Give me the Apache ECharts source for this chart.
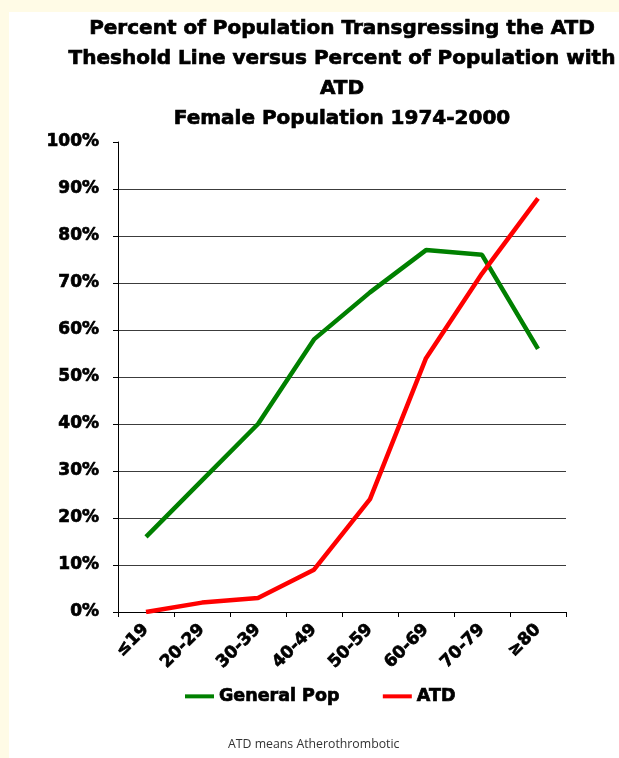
<!DOCTYPE html>
<html>
<head>
<meta charset="utf-8">
<script src="https://cdn.jsdelivr.net/npm/echarts@6/dist/echarts.min.js"></script>
<style>
  html, body { margin: 0; padding: 0; background: #FFFBE6; }
  #panel { position: absolute; left: 9px; top: 12px; width: 610px; height: 746px; background: #ffffff; }
  #chart { position: absolute; left: 0; top: 0; width: 619px; height: 758px; }
</style>
</head>
<body>
<div id="panel"></div>
<div id="chart"></div>
<script>
// Age bands (female population, 1974-2000)
const ageGroups = ['≤19', '20-29', '30-39', '40-49', '50-59', '60-69', '70-79', '≥80'];
// Percent of population transgressing the ATD threshold line
const generalPop = [16, 28, 40, 58, 68, 77, 76, 56];
// Percent of population with ATD
const atd = [0, 2, 3, 9, 24, 54, 72, 88];

const titleLines = [
  'Percent of Population Transgressing the ATD',
  'Theshold Line versus Percent of Population with',
  'ATD',
  'Female Population 1974-2000'
];
const footnote = 'ATD means Atherothrombotic';

const boldFont = 'DejaVu Sans';
// a thin outline in the text colour gives the heavy weight
const heavy = { textBorderColor: '#000', textBorderWidth: 0.7 };

// grid lines at 0..90 drawn, none at the 100% top
const splitColors = [];
for (let i = 0; i <= 10; i++) splitColors.push(i === 10 ? 'rgba(0,0,0,0)' : '#3c3c3c');

const chart = echarts.init(document.getElementById('chart'), null, { renderer: 'canvas' });
chart.setOption({
  backgroundColor: 'transparent',
  animation: false,
  title: {
    text: titleLines.join('\n'),
    left: 337,
    top: 9,
    textAlign: 'center',
    textStyle: Object.assign({
      fontFamily: boldFont,
      fontWeight: 'bold',
      fontSize: 20,
      lineHeight: 29.8,
      color: '#000'
    }, heavy)
  },
  legend: {
    left: 180,
    top: 682,
    icon: 'rect',
    itemWidth: 29,
    itemHeight: 4,
    itemGap: 43,
    textStyle: Object.assign({
      fontFamily: boldFont,
      fontWeight: 'bold',
      fontSize: 17.5,
      color: '#000'
    }, heavy),
    data: ['General Pop', 'ATD']
  },
  graphic: [{
    type: 'text',
    left: 228,
    top: 738,
    style: {
      text: footnote,
      fontFamily: 'Open Sans',
      fontSize: 12.3,
      fill: '#333'
    }
  }],
  grid: {
    left: 118,
    right: 53,
    top: 142,
    bottom: 146,
    containLabel: false
  },
  xAxis: {
    type: 'category',
    data: ageGroups,
    boundaryGap: true,
    axisLine: { show: true, lineStyle: { color: '#000', width: 1 } },
    axisTick: { show: true, length: 5, lineStyle: { color: '#000' } },
    axisLabel: Object.assign({
      rotate: 45,
      margin: 15,
      color: '#000',
      fontFamily: boldFont,
      fontWeight: 'bold',
      fontSize: 17
    }, heavy),
    splitLine: { show: false }
  },
  yAxis: {
    type: 'value',
    min: 0,
    max: 100,
    interval: 10,
    axisLine: { show: true, lineStyle: { color: '#000', width: 1 } },
    axisTick: { show: true, length: 5, lineStyle: { color: '#000' } },
    axisLabel: Object.assign({
      formatter: '{value}%',
      margin: 19,
      color: '#000',
      fontFamily: boldFont,
      fontWeight: 'bold',
      fontSize: 17
    }, heavy),
    splitLine: { show: true, lineStyle: { color: splitColors, width: 1 } }
  },
  series: [
    {
      name: 'General Pop',
      type: 'line',
      data: generalPop,
      symbol: 'none',
      lineStyle: { color: '#008000', width: 4.5 },
      itemStyle: { color: '#008000' }
    },
    {
      name: 'ATD',
      type: 'line',
      data: atd,
      symbol: 'none',
      lineStyle: { color: '#FF0000', width: 4.5 },
      itemStyle: { color: '#FF0000' }
    }
  ]
});
</script>
</body>
</html>
